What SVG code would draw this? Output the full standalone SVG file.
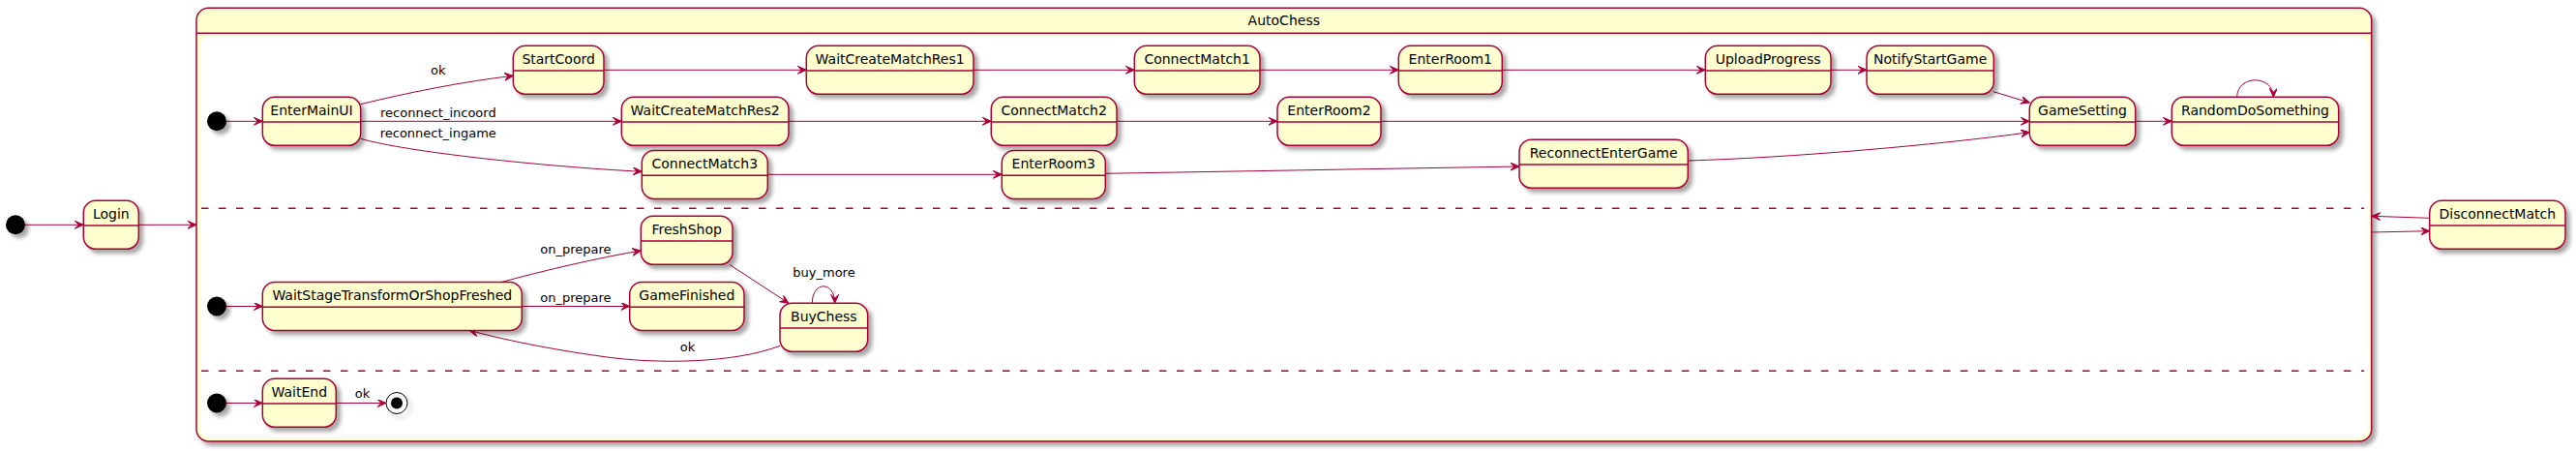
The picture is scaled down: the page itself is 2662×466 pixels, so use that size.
<svg xmlns="http://www.w3.org/2000/svg" width="2662" height="466" viewBox="0 0 2662 466">
<defs>
<filter id="sh" x="-20%" y="-20%" width="150%" height="160%">
<feDropShadow dx="4" dy="4" stdDeviation="2" flood-color="#000" flood-opacity="0.35"/>
</filter>
<marker id="arr" markerWidth="12" markerHeight="10" refX="9" refY="4" orient="auto" markerUnits="userSpaceOnUse">
<polygon points="0,0 9,4 0,8 4,4" fill="#A80036" stroke="#A80036" stroke-width="1"/>
</marker>
</defs>
<style>
.node rect{fill:#FEFECE;stroke:#A80036;stroke-width:1.5;filter:url(#sh)}
.node line{stroke:#A80036;stroke-width:1.5}
.node text{font-family:"DejaVu Sans",sans-serif;font-size:14px;fill:#000;text-anchor:middle}
.lbl{font-family:"DejaVu Sans",sans-serif;font-size:13px;fill:#000}
#connectors path{fill:none;stroke:#A80036;stroke-width:1;marker-end:url(#arr)}
.init{fill:#000;filter:url(#sh)}
.sep{stroke:#A80036;stroke-width:1.5;stroke-dasharray:7.5,10.5}
</style>
<rect width="2662" height="466" fill="#fff"/>

<g id="AutoChess">
<rect x="203" y="8.3" width="2247.7" height="447.7" rx="12.5" fill="#FEFECE" stroke="#A80036" stroke-width="1.5" filter="url(#sh)"/>
<line x1="203" y1="34.3" x2="2450.7" y2="34.3" stroke="#A80036" stroke-width="1.5"/>
<rect x="206.7" y="37.5" width="2240.5" height="415" rx="10" fill="#fff"/>
<text x="1326.8" y="26" font-family="DejaVu Sans, sans-serif" font-size="14" text-anchor="middle">AutoChess</text>
<line class="sep" x1="208" y1="215.3" x2="2443" y2="215.3"/>
<line class="sep" x1="208" y1="383.3" x2="2443" y2="383.3"/>
</g>

<g id="connectors">
<path d="M26,232.3 L86.3,232.3"/>
<path d="M143.3,232.3 L203,232.3"/>
<path d="M2450.7,240 L2510.7,238.7"/>
<path d="M2510.7,225.3 L2450.7,223.3"/>
<path d="M234,125.3 L271.3,125.3"/>
<path d="M372.7,107.7 C420,96 480,84 530.3,78.3"/>
<path d="M372.7,125.3 L642.3,125.3"/>
<path d="M372.7,143.3 C420,157 560,172 663.3,177.3"/>
<path d="M624,72.3 L833.3,72.3"/>
<path d="M1006,72.3 L1172.3,72.3"/>
<path d="M1302,72.3 L1445.3,72.3"/>
<path d="M1552.3,72.3 L1762.3,72.3"/>
<path d="M1892,72.3 L1929,72.3"/>
<path d="M2060,94.7 L2097.3,106"/>
<path d="M815,125.3 L1024.3,125.3"/>
<path d="M1154,125.3 L1320,125.3"/>
<path d="M1427,125.3 L2097.3,125.3"/>
<path d="M793.3,180.3 L1035.3,180.3"/>
<path d="M1142.3,179.3 L1570,172"/>
<path d="M1744.3,166 C1850,163 2000,150 2097.3,136.7"/>
<path d="M2206.7,125.3 L2244.3,125.3"/>
<path d="M2311.7,100.3 C2311.7,77 2349.3,77 2349.3,100.3"/>
<path d="M234,316.5 L271.3,316.5"/>
<path d="M518.3,291.5 C560,280 620,266 662.3,259"/>
<path d="M539.3,316.5 L650.7,316.5"/>
<path d="M754,273.5 L815,313.3"/>
<path d="M839.3,313.3 C839.3,290 862.7,290 862.7,313.3"/>
<path d="M806,357.3 C760,375 680,377 620,368 C570,361 520,351 485,341.3"/>
<path d="M234,416.5 L271.3,416.5"/>
<path d="M347.3,416.5 L399,416.5"/>
<text class="lbl" x="445" y="77">ok</text>
<text class="lbl" x="393" y="120.7">reconnect_incoord</text>
<text class="lbl" x="392.7" y="141.7">reconnect_ingame</text>
<text class="lbl" x="558.3" y="262.3">on_prepare</text>
<text class="lbl" x="558.3" y="311.7">on_prepare</text>
<text class="lbl" x="819.3" y="286">buy_more</text>
<text class="lbl" x="702.7" y="362.7">ok</text>
<text class="lbl" x="366.7" y="411">ok</text>
</g>

<g id="start0"><circle class="init" cx="16" cy="232.3" r="10"/></g>
<g id="start1"><circle class="init" cx="224" cy="125.3" r="10"/></g>
<g id="start2"><circle class="init" cx="224" cy="316.5" r="10"/></g>
<g id="start3"><circle class="init" cx="224" cy="416.5" r="10"/></g>
<g id="end3"><circle cx="410" cy="416.5" r="11" fill="none" stroke="#000" stroke-width="1" filter="url(#sh)"/><circle cx="410" cy="416.5" r="6" fill="#000"/></g>

<g id="Login" class="node"><rect x="86.3" y="207.3" width="57" height="50" rx="12.5"/><line x1="86.3" y1="233" x2="143.3" y2="233"/><text x="114.8" y="226.1">Login</text></g>
<g id="EnterMainUI" class="node"><rect x="271.3" y="100.3" width="101.4" height="50" rx="12.5"/><line x1="271.3" y1="126" x2="372.7" y2="126"/><text x="322" y="119.1">EnterMainUI</text></g>
<g id="StartCoord" class="node"><rect x="530.3" y="47.3" width="93.7" height="50" rx="12.5"/><line x1="530.3" y1="73" x2="624" y2="73"/><text x="577.15" y="66.1">StartCoord</text></g>
<g id="WaitCreateMatchRes1" class="node"><rect x="833.3" y="47.3" width="172.7" height="50" rx="12.5"/><line x1="833.3" y1="73" x2="1006" y2="73"/><text x="919.65" y="66.1">WaitCreateMatchRes1</text></g>
<g id="ConnectMatch1" class="node"><rect x="1172.3" y="47.3" width="129.7" height="50" rx="12.5"/><line x1="1172.3" y1="73" x2="1302" y2="73"/><text x="1237.15" y="66.1">ConnectMatch1</text></g>
<g id="EnterRoom1" class="node"><rect x="1445.3" y="47.3" width="107" height="50" rx="12.5"/><line x1="1445.3" y1="73" x2="1552.3" y2="73"/><text x="1498.8" y="66.1">EnterRoom1</text></g>
<g id="UploadProgress" class="node"><rect x="1762.3" y="47.3" width="129.7" height="50" rx="12.5"/><line x1="1762.3" y1="73" x2="1892" y2="73"/><text x="1827.15" y="66.1">UploadProgress</text></g>
<g id="NotifyStartGame" class="node"><rect x="1929" y="47.3" width="131.3" height="50" rx="12.5"/><line x1="1929" y1="73" x2="2060.3" y2="73"/><text x="1994.65" y="66.1">NotifyStartGame</text></g>
<g id="WaitCreateMatchRes2" class="node"><rect x="642.3" y="100.3" width="172.7" height="50" rx="12.5"/><line x1="642.3" y1="126" x2="815" y2="126"/><text x="728.65" y="119.1">WaitCreateMatchRes2</text></g>
<g id="ConnectMatch2" class="node"><rect x="1024.3" y="100.3" width="129.7" height="50" rx="12.5"/><line x1="1024.3" y1="126" x2="1154" y2="126"/><text x="1089.15" y="119.1">ConnectMatch2</text></g>
<g id="EnterRoom2" class="node"><rect x="1320" y="100.3" width="107" height="50" rx="12.5"/><line x1="1320" y1="126" x2="1427" y2="126"/><text x="1373.5" y="119.1">EnterRoom2</text></g>
<g id="GameSetting" class="node"><rect x="2097.3" y="100.3" width="109.4" height="50" rx="12.5"/><line x1="2097.3" y1="126" x2="2206.7" y2="126"/><text x="2152" y="119.1">GameSetting</text></g>
<g id="RandomDoSomething" class="node"><rect x="2244.3" y="100.3" width="172.4" height="50" rx="12.5"/><line x1="2244.3" y1="126" x2="2416.7" y2="126"/><text x="2330.5" y="119.1">RandomDoSomething</text></g>
<g id="ConnectMatch3" class="node"><rect x="663.3" y="155.5" width="130" height="50" rx="12.5"/><line x1="663.3" y1="181.2" x2="793.3" y2="181.2"/><text x="728.3" y="174.3">ConnectMatch3</text></g>
<g id="EnterRoom3" class="node"><rect x="1035.3" y="155.5" width="107" height="50" rx="12.5"/><line x1="1035.3" y1="181.2" x2="1142.3" y2="181.2"/><text x="1088.8" y="174.3">EnterRoom3</text></g>
<g id="ReconnectEnterGame" class="node"><rect x="1570" y="144.3" width="174.3" height="50" rx="12.5"/><line x1="1570" y1="170" x2="1744.3" y2="170"/><text x="1657.15" y="163.1">ReconnectEnterGame</text></g>
<g id="FreshShop" class="node"><rect x="662.3" y="223.3" width="94.7" height="50" rx="12.5"/><line x1="662.3" y1="249" x2="757" y2="249"/><text x="709.65" y="242.1">FreshShop</text></g>
<g id="WaitStageTransformOrShopFreshed" class="node"><rect x="271.3" y="291.5" width="268" height="50" rx="12.5"/><line x1="271.3" y1="317.2" x2="539.3" y2="317.2"/><text x="405.3" y="310.3">WaitStageTransformOrShopFreshed</text></g>
<g id="GameFinished" class="node"><rect x="650.7" y="291.5" width="118.3" height="50" rx="12.5"/><line x1="650.7" y1="317.2" x2="769" y2="317.2"/><text x="709.85" y="310.3">GameFinished</text></g>
<g id="BuyChess" class="node"><rect x="806" y="313.3" width="90.7" height="50" rx="12.5"/><line x1="806" y1="339" x2="896.7" y2="339"/><text x="851.35" y="332.1">BuyChess</text></g>
<g id="WaitEnd" class="node"><rect x="271.3" y="391.3" width="76" height="50" rx="12.5"/><line x1="271.3" y1="417" x2="347.3" y2="417"/><text x="309.3" y="410.1">WaitEnd</text></g>
<g id="DisconnectMatch" class="node"><rect x="2510.7" y="207.3" width="140.3" height="50" rx="12.5"/><line x1="2510.7" y1="233" x2="2651" y2="233"/><text x="2580.85" y="226.1">DisconnectMatch</text></g>
</svg>
